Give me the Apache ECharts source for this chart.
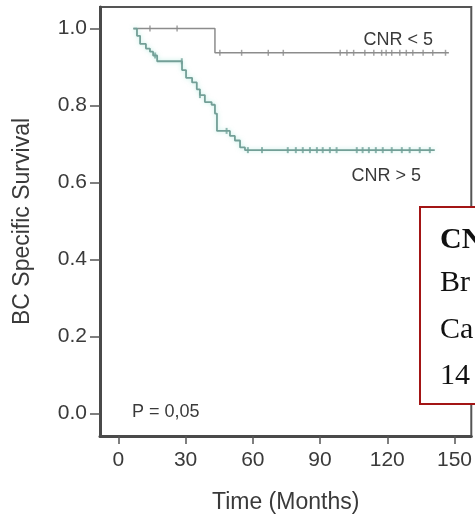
<!DOCTYPE html>
<html>
<head>
<meta charset="utf-8">
<script src="https://cdn.jsdelivr.net/npm/echarts@6/dist/echarts.min.js"></script>
<style>
html,body{margin:0;padding:0;background:#fff;}
#c{width:475px;height:519px;}
</style>
</head>
<body>
<div id="c"></div>
<script>
// ---- data ----
var xTicks = [0, 30, 60, 90, 120, 150];
var yTicks = [0, 0.2, 0.4, 0.6, 0.8, 1.0];

var lowTimes  = [6.7, 43.1, 147.5];
var lowValues = [1.0, 0.937, 0.937];
var lowCensor = [14.1, 26.2, 45.3, 55, 66.9, 73.6, 99, 102, 105, 110, 114, 117.5, 119.5, 122, 125.6, 128.5, 131.4, 136, 140.3, 146];

var highTimes  = [6.7, 8.3, 9.7, 12.3, 14.1, 15.5, 17.3, 28.4, 30.2, 32.9, 35.0, 36.4, 38.6, 41.6, 43.1, 44.0, 49.8, 52.0, 54.3, 56.5, 141.2];
var highValues = [1.0, 0.981, 0.960, 0.948, 0.940, 0.930, 0.915, 0.892, 0.872, 0.860, 0.842, 0.827, 0.809, 0.802, 0.779, 0.734, 0.721, 0.709, 0.691, 0.684, 0.684];
var highCensor = [16.4, 28.3, 36.4, 48.3, 57.8, 64.1, 75.6, 79.2, 82.3, 85.5, 88.6, 91.2, 94.4, 97.4, 106.4, 109, 111.8, 114.9, 118, 122, 126.5, 130, 134.5, 139];

function pairs(ts, vs){ return ts.map(function(t,i){ return [t, vs[i]]; }); }
function onCurve(ts, vs, cs){
  return cs.map(function(c){
    var v = vs[0];
    for (var i=0;i<ts.length;i++){ if (ts[i] <= c) v = vs[i]; }
    return [c, v];
  });
}

var lowColor = '#8c8c8c';
var highColor = '#739f97';
var txt = '#3a3a3a';
var sans = '"Liberation Sans", Arial, sans-serif';
var serif = '"Liberation Serif", "Times New Roman", serif';

var chart = echarts.init(document.getElementById('c'));
chart.setOption({
  animation: false,
  backgroundColor: '#fff',
  grid: {left: 100, top: 7, right: 3, bottom: 69, show: true, borderColor: '#555', borderWidth: 2, backgroundColor: 'transparent'},
  xAxis: {
    type: 'value', min: -8.2, max: 157.5,
    name: 'Time (Months)', nameLocation: 'middle', nameGap: 55,
    nameTextStyle: {fontFamily: sans, fontSize: 23, color: txt},
    axisLine: {show: true, onZero: false, lineStyle: {color: '#4a4a4a', width: 3}},
    axisTick: {show: true, customValues: xTicks, length: 8, lineStyle: {color: '#555', width: 1.5}},
    axisLabel: {customValues: xTicks, margin: 14, fontFamily: sans, fontSize: 21, color: txt},
    splitLine: {show: false}
  },
  yAxis: {
    type: 'value', min: -0.059, max: 1.056,
    name: 'BC Specific Survival', nameLocation: 'middle', nameGap: 66, nameRotate: 90,
    nameTextStyle: {fontFamily: sans, fontSize: 23, color: txt},
    axisLine: {show: true, onZero: false, lineStyle: {color: '#4a4a4a', width: 3}},
    axisTick: {show: true, customValues: yTicks, length: 10, lineStyle: {color: '#555', width: 1.5}},
    axisLabel: {customValues: yTicks, margin: 13, fontFamily: sans, fontSize: 21, color: txt,
      formatter: function(v){ return v.toFixed(1); }},
    splitLine: {show: false}
  },
  series: [
    {type: 'line', name: 'CNR < 5', step: 'end', data: pairs(lowTimes, lowValues), showSymbol: false,
     lineStyle: {color: lowColor, width: 1.5}},
    {type: 'line', name: 'CNR > 5', step: 'end', data: pairs(highTimes, highValues), showSymbol: false,
     lineStyle: {color: highColor, width: 1.8, shadowColor: 'rgba(120,220,200,0.5)', shadowBlur: 4}},
    {type: 'scatter', data: onCurve(lowTimes, lowValues, lowCensor), symbol: 'rect', symbolSize: [1.5, 6],
     itemStyle: {color: lowColor}},
    {type: 'scatter', data: onCurve(highTimes, highValues, highCensor), symbol: 'rect', symbolSize: [2, 6],
     itemStyle: {color: highColor}}
  ],
  graphic: [
    {type: 'text', right: 475 - 433, top: 31, z: 50,
     style: {text: 'CNR < 5', fontFamily: sans, fontSize: 18, fill: txt}},
    {type: 'text', right: 475 - 421, top: 167, z: 50,
     style: {text: 'CNR > 5', fontFamily: sans, fontSize: 18, fill: txt}},
    {type: 'text', left: 132, top: 403, z: 50,
     style: {text: 'P = 0,05', fontFamily: sans, fontSize: 18, fill: txt}},
    {type: 'rect', z: 100, shape: {x: 420, y: 207, width: 80, height: 197},
     style: {fill: '#fff', stroke: '#a31515', lineWidth: 2}},
    {type: 'text', z: 101, x: 440, y: 240,
     style: {text: 'CNR', fontFamily: serif, fontWeight: 'bold', fontSize: 30, fill: '#111', verticalAlign: 'middle'}},
    {type: 'text', z: 101, x: 440, y: 283,
     style: {text: 'Br', fontFamily: serif, fontSize: 30, fill: '#111', verticalAlign: 'middle'}},
    {type: 'text', z: 101, x: 440, y: 330,
     style: {text: 'Ca', fontFamily: serif, fontSize: 30, fill: '#111', verticalAlign: 'middle'}},
    {type: 'text', z: 101, x: 440, y: 376,
     style: {text: '14', fontFamily: serif, fontSize: 30, fill: '#111', verticalAlign: 'middle'}}
  ]
});
</script>
</body>
</html>
